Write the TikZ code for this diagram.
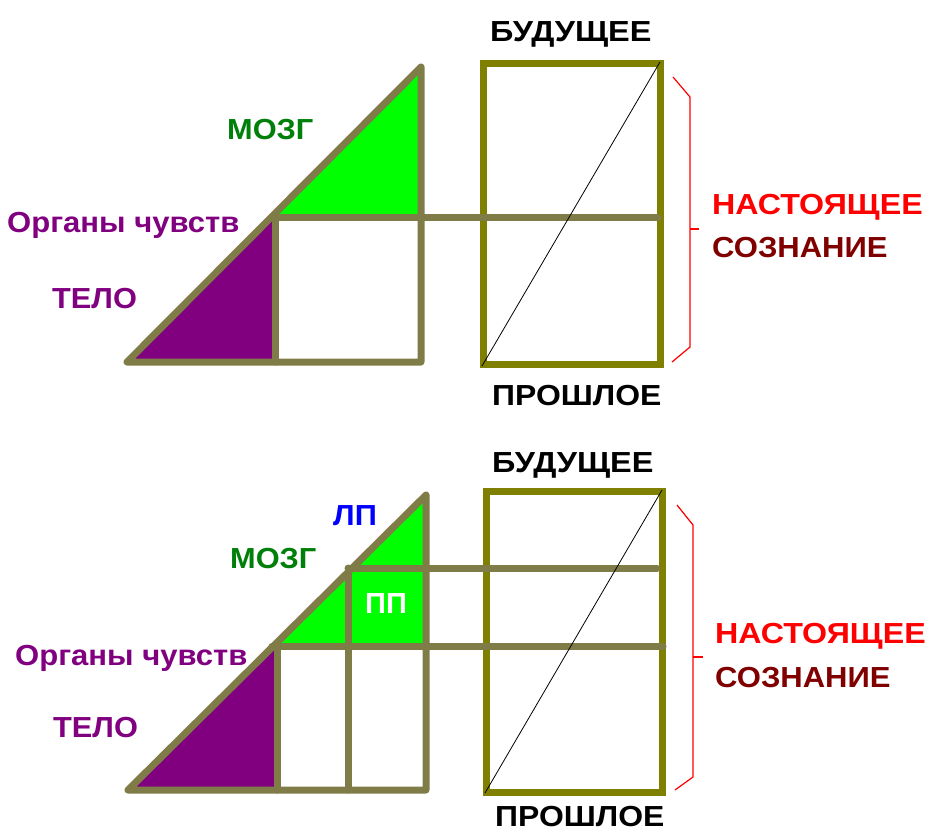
\documentclass[tikz,border=0pt]{standalone}
\usepackage{graphicx}
\usepackage{fontspec}
\setmainfont{Liberation Sans}
\definecolor{triline}{RGB}{128,124,72}
\definecolor{rectline}{RGB}{128,128,0}
\definecolor{brain}{RGB}{0,255,0}
\definecolor{body}{RGB}{128,0,128}
\definecolor{brainlbl}{RGB}{0,128,10}
\definecolor{present}{RGB}{255,0,0}
\definecolor{consc}{RGB}{128,0,0}
\definecolor{lpblue}{RGB}{0,0,255}
\newcommand{\widetxt}[2][1.09]{\scalebox{#1}[1]{#2}}
\tikzset{
  triedge/.style={draw=triline,line width=7pt,line cap=round,line join=round},
  rectedge/.style={draw=rectline,line width=7pt,line join=miter},
  timeline/.style={draw=black,line width=0.8pt},
  bracepath/.style={draw=present,line width=1.2pt},
  lbl/.style={font=\bfseries\fontsize{29}{31}\selectfont,inner sep=0pt,anchor=base west},
}
\begin{document}
\begin{tikzpicture}[x=1pt,y=-1pt]
\useasboundingbox[fill=white] (0,0) rectangle (928,834);
% ---------- top diagram ----------
\fill[brain] (272,218) -- (421,218) -- (421,67) -- cycle;
\fill[body] (127,362) -- (275,362) -- (275,214) -- cycle;
\draw[rectedge] (483.5,63.5) rectangle (660,364.5);
\draw[triedge] (127,362) -- (421,67) -- (421,362) -- cycle;
\draw[triedge] (272,218) -- (658,218);
\draw[triedge] (275,218) -- (275,362);
\draw[timeline] (482,366) -- (660,62);
\draw[bracepath] (673,77) -- (690,97) -- (690,347) -- (672,362);
\draw[bracepath] (690,229) -- (699,229);
\node[lbl] (fut1) at (490,42) {\widetxt[1.12]{БУДУЩЕЕ}};
\node[lbl] (past1) at (492,405) {\widetxt[1.1]{ПРОШЛОЕ}};
\node[lbl,text=present] (pres1) at (712,215) {\widetxt[1.11]{НАСТОЯЩЕЕ}};
\node[lbl,text=consc] (cons1) at (712,258) {\widetxt[1.07]{СОЗНАНИЕ}};
\node[lbl,text=brainlbl] (brain1) at (227,140) {\widetxt[1.06]{МОЗГ}};
\node[lbl,text=body] (sense1) at (7,233) {\widetxt[1.07]{Органы чувств}};
\node[lbl,text=body] (body1) at (52,308) {\widetxt[1.06]{ТЕЛО}};
% ---------- bottom diagram ----------
\fill[brain] (272,646) -- (426,646) -- (426,495) -- cycle;
\fill[body] (128,790) -- (277,790) -- (277,641) -- cycle;
\draw[rectedge] (486.5,491.5) rectangle (662.5,792.5);
\draw[triedge] (128,790) -- (426,495) -- (426,790) -- cycle;
\draw[triedge] (348,568) -- (657,568);
\draw[triedge] (272,646) -- (663,646);
\draw[triedge] (277,646) -- (277,790);
\draw[triedge] (348,568) -- (348,790);
\draw[timeline] (485,793) -- (662,490);
\draw[bracepath] (677,505) -- (693,525) -- (693,777) -- (675,790);
\draw[bracepath] (693,657) -- (703,657);
\node[lbl] (fut2) at (492,472) {\widetxt[1.12]{БУДУЩЕЕ}};
\node[lbl] (past2) at (495,826) {\widetxt[1.1]{ПРОШЛОЕ}};
\node[lbl,text=present] (pres2) at (715,643) {\widetxt[1.11]{НАСТОЯЩЕЕ}};
\node[lbl,text=consc] (cons2) at (715,687) {\widetxt[1.07]{СОЗНАНИЕ}};
\node[lbl,text=lpblue] (lp) at (333,525) {\widetxt[1.06]{ЛП}};
\node[lbl,text=brainlbl] (brain2) at (230,568) {\widetxt[1.06]{МОЗГ}};
\node[lbl,text=white] (pp) at (365,613) {\widetxt[1.0]{ПП}};
\node[lbl,text=body] (sense2) at (15,665) {\widetxt[1.07]{Органы чувств}};
\node[lbl,text=body] (body2) at (53,737) {\widetxt[1.06]{ТЕЛО}};
\end{tikzpicture}
\end{document}
